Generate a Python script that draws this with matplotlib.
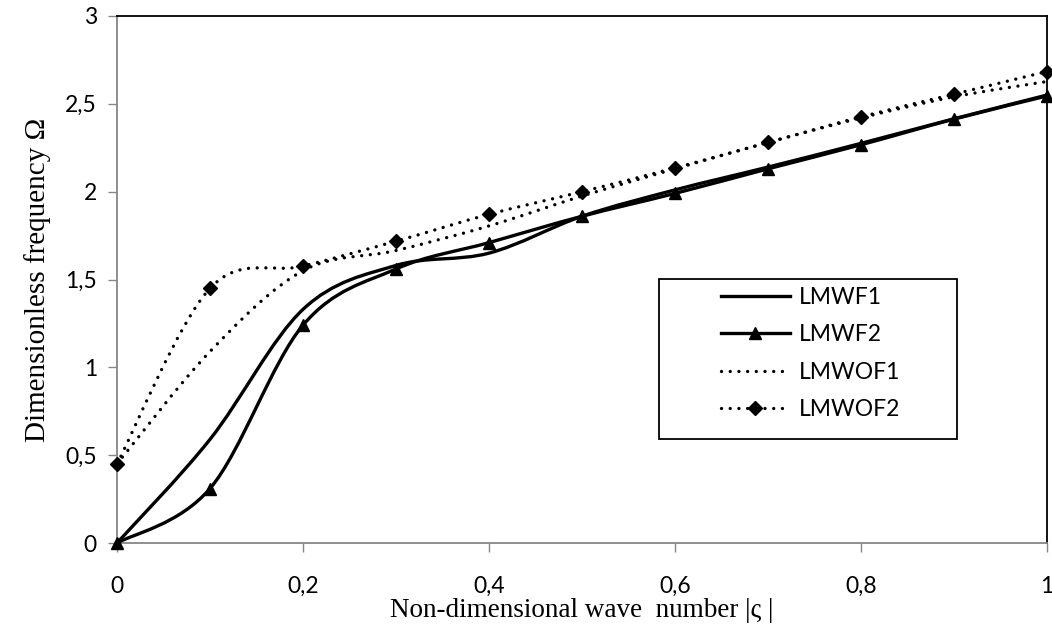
import numpy as np
import matplotlib
matplotlib.use("Agg")
import matplotlib.pyplot as plt
from matplotlib.path import Path
from matplotlib.patches import PathPatch, Rectangle
from matplotlib.lines import Line2D

# ---- data ----
x_vals = [0, 0.1, 0.2, 0.3, 0.4, 0.5, 0.6, 0.7, 0.8, 0.9, 1.0]
lmwf1 = [0.0, 0.59, 1.33, 1.58, 1.65, 1.86, 2.01, 2.14, 2.275, 2.415, 2.55]
lmwf2 = [0.0, 0.31, 1.24, 1.56, 1.71, 1.86, 1.99, 2.13, 2.267, 2.413, 2.545]
lmwof1 = [0.45, 1.09, 1.55, 1.665, 1.805, 1.975, 2.13, 2.28, 2.42, 2.54, 2.627]
lmwof2 = [0.45, 1.45, 1.576, 1.718, 1.871, 2.0, 2.135, 2.28, 2.426, 2.555, 2.684]
series_names = ["LMWF1", "LMWF2", "LMWOF1", "LMWOF2"]
x_ticks = [0, 0.2, 0.4, 0.6, 0.8, 1.0]
x_tick_labels = ["0", "0,2", "0,4", "0,6", "0,8", "1"]
y_ticks = [0, 0.5, 1, 1.5, 2, 2.5, 3]
y_tick_labels = ["0", "0,5", "1", "1,5", "2", "2,5", "3"]


def smooth_path(xs, ys):
    """Excel-like smoothed line as cubic Bezier segments."""
    pts = np.column_stack([xs, ys]).astype(float)
    n = len(pts)
    verts = [pts[0]]
    codes = [Path.MOVETO]
    for i in range(n - 1):
        p0 = pts[i - 1] if i > 0 else pts[i]
        p1 = pts[i]
        p2 = pts[i + 1]
        p3 = pts[i + 2] if i + 2 < n else pts[i + 1]
        c1 = p1 + (p2 - p0) / 6.0
        c2 = p2 - (p3 - p1) / 6.0
        verts += [c1, c2, p2]
        codes += [Path.CURVE4] * 3
    return Path(verts, codes)


W, H = 1052, 624
fig = plt.figure(figsize=(W / 100, H / 100), dpi=100)
ax = fig.add_axes([117 / W, 1 - 543 / H, 930 / W, 527 / H])
ax.set_xlim(0, 1)
ax.set_ylim(0, 3)

lw = 2.4
dot_style = (0, (0.01, 2.6))

styles = [
    dict(ls="-", marker=None),
    dict(ls="-", marker="^"),
    dict(ls=dot_style, marker=None),
    dict(ls=dot_style, marker="D"),
]
data = [lmwf1, lmwf2, lmwof1, lmwof2]

handles = []
for name, ys, st in zip(series_names, data, styles):
    patch = PathPatch(smooth_path(x_vals, ys), facecolor="none", edgecolor="black",
                      linewidth=lw, linestyle=st["ls"], capstyle="round", joinstyle="round",
                      zorder=3)
    ax.add_patch(patch)
    ms = 9 if st["marker"] == "^" else 7.5
    if st["marker"] is not None:
        ax.plot(x_vals, ys, linestyle="none", marker=st["marker"], markersize=ms,
                color="black", zorder=4, clip_on=False)
    h = Line2D([], [], color="black", linewidth=lw, linestyle=st["ls"],
               marker=st["marker"], markersize=ms, dash_capstyle="round")
    handles.append(h)

# axes styling
gray = "#868686"
for side in ["left", "bottom"]:
    ax.spines[side].set_color(gray)
    ax.spines[side].set_linewidth(1.3)
for side in ["top", "right"]:
    ax.spines[side].set_color("black")
    ax.spines[side].set_linewidth(1.3)

ax.set_xticks(x_ticks)
ax.set_xticklabels(x_tick_labels)
ax.set_yticks(y_ticks)
ax.set_yticklabels(y_tick_labels)
ax.tick_params(axis="both", direction="out", length=6.5, width=1.0, color=gray,
               labelsize=16.5, labelcolor="black")
ax.tick_params(axis="x", pad=17)
ax.tick_params(axis="y", pad=8)
for lab in ax.get_xticklabels() + ax.get_yticklabels():
    lab.set_family("Lato")

ax.set_xlabel("Non-dimensional wave  number |ς |", family="Liberation Serif", fontsize=19.5,
              labelpad=1)
ax.set_ylabel("Dimensionless frequency Ω", family="Liberation Serif", fontsize=21,
              labelpad=10)

# legend frame (fixed box) + entries
fig.patches.append(Rectangle((659 / W, 1 - 439 / H), 298 / W, 160 / H,
                             transform=fig.transFigure, facecolor="white",
                             edgecolor="black", linewidth=1.3, zorder=5))
leg = fig.legend(handles, series_names, loc="upper left",
                 bbox_to_anchor=(721 / W, 1 - 287 / H), bbox_transform=fig.transFigure,
                 frameon=False, prop={"family": "Lato", "size": 16.5},
                 handlelength=3.0, handletextpad=0.4, labelspacing=0.72,
                 borderpad=0, borderaxespad=0, numpoints=1)
leg.set_zorder(6)

fig.savefig("out.png", dpi=100)
